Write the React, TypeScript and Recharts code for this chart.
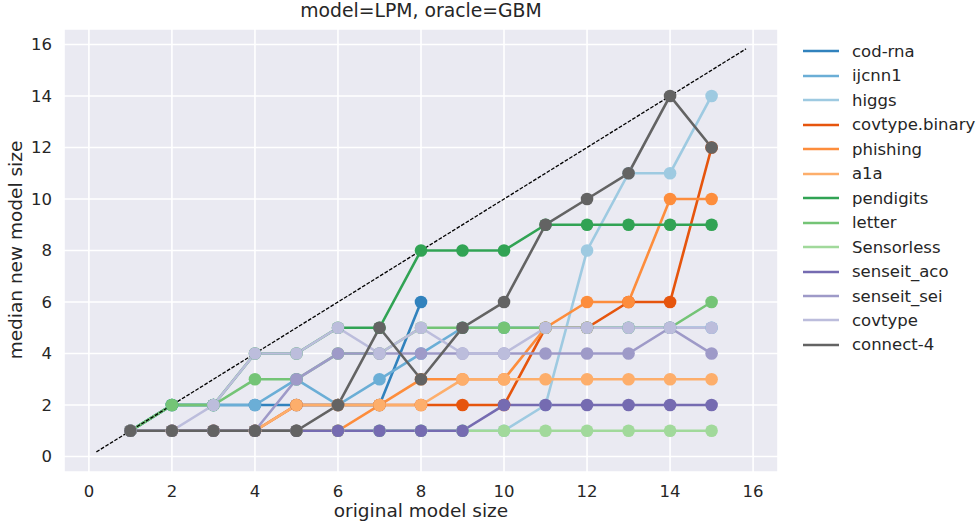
import { CartesianGrid, Line, LineChart, XAxis, YAxis } from "recharts";

const sizes = [1, 2, 3, 4, 5, 6, 7, 8, 9, 10, 11, 12, 13, 14, 15];
const ticks = [0, 2, 4, 6, 8, 10, 12, 14, 16];

const codRna = [1, 2, 2, 2, 2, 2, 2, 6];
const ijcnn1 = [1, 2, 2, 2, 3, 2, 3, 4, 5, 5, 5, 5, 5, 5, 5];
const higgs = [1, 1, 1, 1, 1, 1, 1, 1, 1, 1, 2, 8, 11, 11, 14];
const covtypeBinary = [1, 1, 1, 1, 2, 2, 2, 2, 2, 2, 5, 5, 6, 6, 12];
const phishing = [1, 1, 1, 1, 1, 1, 2, 3, 3, 3, 5, 6, 6, 10, 10];
const a1a = [1, 1, 1, 1, 2, 2, 2, 2, 3, 3, 3, 3, 3, 3, 3];
const pendigits = [1, 2, 2, 4, 4, 5, 5, 8, 8, 8, 9, 9, 9, 9, 9];
const letter = [1, 2, 2, 3, 3, 4, 4, 5, 5, 5, 5, 5, 5, 5, 6];
const sensorless = [1, 1, 1, 1, 1, 1, 1, 1, 1, 1, 1, 1, 1, 1, 1];
const senseitAco = [1, 1, 1, 1, 1, 1, 1, 1, 1, 2, 2, 2, 2, 2, 2];
const senseitSei = [1, 1, 1, 1, 3, 4, 4, 4, 4, 4, 4, 4, 4, 5, 4];
const covtype = [1, 1, 2, 4, 4, 5, 4, 5, 4, 4, 5, 5, 5, 5, 5];
const connect4 = [1, 1, 1, 1, 1, 2, 5, 3, 5, 6, 9, 10, 11, 14, 12];

// reference diagonal (y = x)
const diagonal = [0.18, 15.83];

const series = [
  { name: "cod-rna", values: codRna, color: "#3182bd" },
  { name: "ijcnn1", values: ijcnn1, color: "#6baed6" },
  { name: "higgs", values: higgs, color: "#9ecae1" },
  { name: "covtype.binary", values: covtypeBinary, color: "#e6550d" },
  { name: "phishing", values: phishing, color: "#fd8d3c" },
  { name: "a1a", values: a1a, color: "#fdae6b" },
  { name: "pendigits", values: pendigits, color: "#31a354" },
  { name: "letter", values: letter, color: "#74c476" },
  { name: "Sensorless", values: sensorless, color: "#a1d99b" },
  { name: "senseit_aco", values: senseitAco, color: "#756bb1" },
  { name: "senseit_sei", values: senseitSei, color: "#9e9ac8" },
  { name: "covtype", values: covtype, color: "#bcbddc" },
  { name: "connect-4", values: connect4, color: "#636363" },
];

const FONT = "'DejaVu Sans', sans-serif";
const TEXT = "#262626";

export default function App() {
  const tick = { fontSize: 16.5, fill: TEXT, fontFamily: FONT };
  return (
    <div style={{ position: "absolute", left: 0, top: 0, width: 977, height: 523, background: "#fff", fontFamily: FONT, color: TEXT }}>
      <LineChart width={977} height={523} margin={{ top: 29, right: 199, bottom: 21, left: 0 }}>
        <CartesianGrid fill="#eaeaf2" stroke="#ffffff" strokeWidth={1.6} />
        <XAxis
          type="number"
          dataKey="x"
          domain={[-0.6, 16.6]}
          ticks={ticks}
          allowDataOverflow
          axisLine={false}
          tickLine={false}
          tickMargin={7}
          height={30}
          tick={tick}
        />
        <YAxis
          type="number"
          dataKey="y"
          domain={[-0.6, 16.6]}
          ticks={ticks}
          allowDataOverflow
          axisLine={false}
          tickLine={false}
          tickMargin={6}
          width={64}
          tick={tick}
        />
        {series.map((s) => (
          <Line
            key={s.name}
            data={s.values.map((v, i) => ({ x: sizes[i], y: v }))}
            dataKey="y"
            name={s.name}
            stroke={s.color}
            strokeWidth={2.6}
            dot={{ r: 6.3, fill: s.color, stroke: "none" }}
            isAnimationActive={false}
          />
        ))}
        <Line
          data={diagonal.map((v) => ({ x: v, y: v }))}
          dataKey="y"
          stroke="#000"
          strokeWidth={1.3}
          strokeDasharray="3.7 1.6"
          dot={false}
          isAnimationActive={false}
        />
      </LineChart>
      <div style={{ position: "absolute", left: 64, width: 714, top: 0, textAlign: "center", fontSize: 18.8 }}>
        model=LPM, oracle=GBM
      </div>
      <div style={{ position: "absolute", left: 64, width: 714, top: 500, textAlign: "center", fontSize: 18.5 }}>
        original model size
      </div>
      <div
        style={{
          position: "absolute",
          left: 15,
          top: 250,
          fontSize: 18.5,
          whiteSpace: "nowrap",
          transform: "translate(-50%, -50%) rotate(-90deg)",
        }}
      >
        median new model size
      </div>
      {series.map((s, i) => (
        <div
          key={s.name}
          style={{ position: "absolute", left: 803, top: 51.3 + 24.47 * i - 12, height: 24, display: "flex", alignItems: "center", fontSize: 16.5, whiteSpace: "nowrap" }}
        >
          <svg width={36} height={4} style={{ marginRight: 13 }}>
            <line x1={0} y1={2} x2={36} y2={2} stroke={s.color} strokeWidth={2.6} />
          </svg>
          {s.name}
        </div>
      ))}
    </div>
  );
}
